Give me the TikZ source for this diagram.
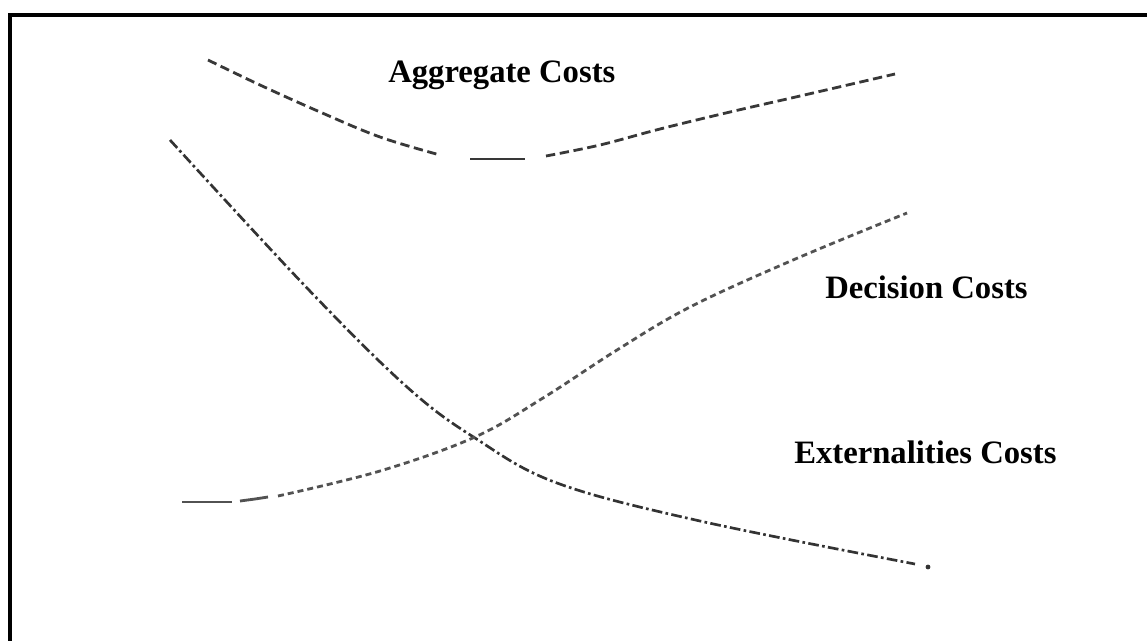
\documentclass[tikz,border=0pt]{standalone}
\usepackage{fontspec}
\setmainfont{Liberation Serif}
\begin{document}
\begin{tikzpicture}[x=0.75pt,y=-0.75pt,
  lbl/.style={font=\fontsize{24.5}{28}\selectfont\bfseries, anchor=base west, inner sep=0pt},
  aggline/.style={color=black!78, line width=2.1pt, dash pattern=on 7pt off 3.5pt},
  extline/.style={color=black!80, line width=2pt, dash pattern=on 8pt off 2.5pt on 2pt off 2.5pt},
  decline/.style={color=black!68, line width=2.1pt, dash pattern=on 4.5pt off 3pt},
  frameline/.style={line width=3pt, color=black}]
\useasboundingbox (0,0) rectangle (1147,640);
\clip (0,0) rectangle (1147,640);
\fill[white] (0,0) rectangle (1147,640);
% frame (right and bottom sides lie outside the picture)
\draw[frameline] (10,700) -- (10,15) -- (1200,15);
% labels
\node[lbl] (agg) at (388,82) {Aggregate Costs};
\node[lbl] (dec) at (825,298) {Decision Costs};
\node[lbl] (ext) at (794,463) {Externalities Costs};
% aggregate costs
\draw[aggline] plot[smooth, tension=0.6] coordinates {(208,60) (260,85) (320,112) (380,137) (440,155)};
\draw[aggline, solid] (470,159) -- (525,159);
\draw[aggline] plot[smooth, tension=0.6] coordinates {(546,156) (600,145) (660,129) (730,112) (800,96) (895,74)};
% externalities costs
\draw[extline] plot[smooth, tension=0.6] coordinates {(170,140) (307,288) (407,387) (475,438) (557,483) (700,521) (915,564)};
\fill[black!80] (928,567) circle (2.4);
% decision costs
\draw[decline, solid] (182,502) -- (232,502);
\draw[decline, solid] (240,501) -- (255,499) -- (268,497);
\draw[decline] plot[smooth, tension=0.6] coordinates {(278,496) (380,471) (475,437) (543,398) (617,350) (690,307) (793,260) (907,213)};
\end{tikzpicture}
\end{document}
